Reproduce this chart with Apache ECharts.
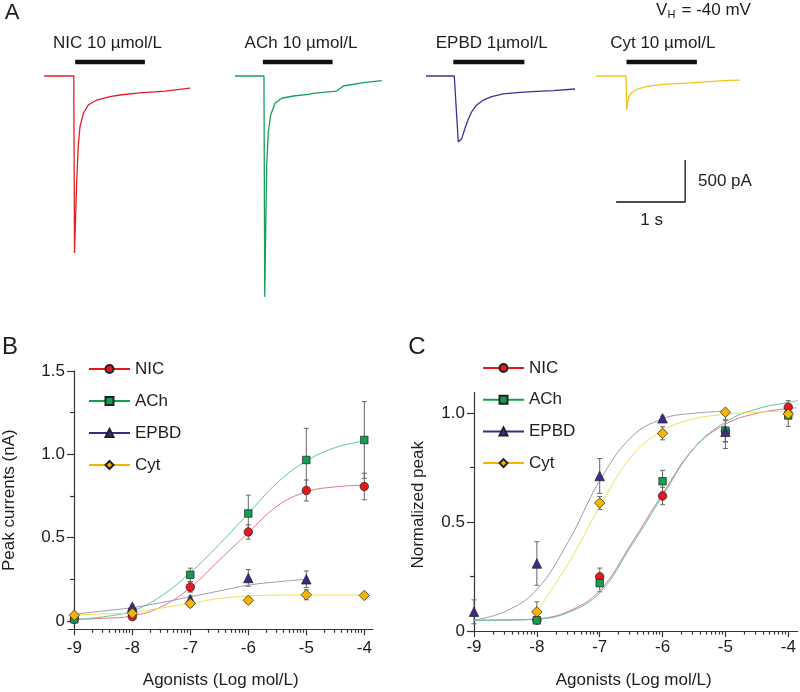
<!DOCTYPE html>
<html>
<head>
<meta charset="utf-8">
<script src="https://cdn.jsdelivr.net/npm/echarts@6/dist/echarts.min.js"></script>
<style>
  html, body { margin: 0; padding: 0; background: #fff; }
  #chart { width: 800px; height: 692px; }
</style>
</head>
<body>
<div id="chart"></div>
<script>
// ---- panel A: current traces, [time (s), current (pA)] ----
const nicTrace = [[0.06, 0], [0.49, 0], [0.50, -2107], [0.517, -1655], [0.532, -1258], [0.555, -821], [0.58, -603],
  [0.628, -444], [0.70, -345], [0.822, -286], [1.014, -246], [1.159, -226], [1.449, -202], [1.812, -179], [2.174, -145]];
const achTrace = [[2.826, 0], [3.246, 0], [3.257, -2627], [3.271, -1853], [3.286, -1059], [3.309, -663], [3.343, -464],
  [3.406, -325], [3.503, -265], [3.671, -238], [3.888, -218], [3.96, -206], [4.30, -179], [4.396, -119], [4.686, -80], [4.952, -56]];
const epbdTrace = [[5.594, 0], [6.004, 0], [6.062, -786], [6.072, -793], [6.112, -746], [6.159, -623], [6.207, -516],
  [6.257, -425], [6.329, -345], [6.425, -286], [6.546, -246], [6.714, -214], [6.957, -194], [7.199, -182], [7.439, -175], [7.754, -155]];
const cytTrace = [[8.058, 0], [8.493, 0], [8.503, -405], [8.517, -306], [8.541, -238], [8.575, -199], [8.648, -158],
  [8.793, -123], [9.033, -99], [9.42, -83], [9.975, -51], [10.145, -48]];
const agonistBars = [[0.51, 1.52], [3.23, 4.24], [5.99, 7.02], [8.50, 9.52]]; // 1 s application
const barLevel = 167;
const scaleBar = [[9.35, -1000], [9.35, -1500], [8.35, -1500]]; // 500 pA, 1 s
const agonistLabels = ['NIC 10 µmol/L', 'ACh 10 µmol/L', 'EPBD 1µmol/L', 'Cyt 10 µmol/L'];

// ---- panels B and C: dose-response ----
const logConc = [-9, -8, -7, -6, -5, -4];
const peakNIC = [0.01, 0.026, 0.203, 0.534, 0.783, 0.807];
const peakNICErr = [0.005, 0.01, 0.03, 0.043, 0.063, 0.08];
const peakACh = [0.01, 0.055, 0.277, 0.645, 0.966, 1.086];
const peakAChErr = [0.005, 0.01, 0.04, 0.11, 0.19, 0.23];
const peakEPBD = [null, 0.086, 0.13, 0.258, 0.25, null];
const peakEPBDErr = [0, 0.01, 0.02, 0.05, 0.05, 0];
const peakCyt = [0.034, 0.046, 0.105, 0.124, 0.157, 0.153];
const peakCytErr = [0.005, 0.01, 0.02, 0.015, 0.03, 0.01];

const normNIC = [null, 0.05, 0.249, 0.62, 0.918, 1.028];
const normNICErr = [0, 0.01, 0.04, 0.04, 0.05, 0.03];
const normACh = [null, 0.049, 0.22, 0.688, 0.92, 0.99];
const normAChErr = [0, 0.01, 0.04, 0.05, 0.05, 0.05];
const normEPBD = [0.088, 0.31, 0.712, 0.977, 0.915, null];
const normEPBDErr = [0.055, 0.1, 0.08, 0.01, 0.077, 0];
const normCyt = [null, 0.088, 0.588, 0.908, 1.005, 0.997];
const normCytErr = [0, 0.046, 0.03, 0.03, 0.01, 0.02];

// fitted curves, [log conc, value]
const fitPeakNIC = [[-9, 0.01], [-8.5, 0.016], [-8, 0.03], [-7.5, 0.085], [-7, 0.2], [-6.5, 0.365], [-6, 0.53], [-5.5, 0.69], [-5, 0.775], [-4.5, 0.805], [-4, 0.815]];
const fitPeakACh = [[-9, 0.008], [-8.5, 0.025], [-8, 0.06], [-7.5, 0.15], [-7, 0.29], [-6.5, 0.46], [-6, 0.645], [-5.5, 0.83], [-5, 0.96], [-4.5, 1.04], [-4, 1.08]];
const fitPeakEPBD = [[-9, 0.04], [-8.5, 0.06], [-8, 0.08], [-7.5, 0.11], [-7, 0.145], [-6.5, 0.18], [-6, 0.215], [-5.5, 0.235], [-5, 0.25]];
const fitPeakCyt = [[-9, 0.036], [-8.5, 0.042], [-8, 0.05], [-7.5, 0.078], [-7, 0.105], [-6.5, 0.135], [-6, 0.15], [-5.5, 0.155], [-5, 0.156], [-4.5, 0.156], [-4, 0.156]];
const fitNormNIC = [[-9, 0.05], [-8.5, 0.051], [-8, 0.056], [-7.5, 0.09], [-7, 0.185], [-6.5, 0.4], [-6, 0.63], [-5.5, 0.84], [-5, 0.95], [-4.5, 1.0], [-4, 1.022], [-3.87, 1.025]];
const fitNormACh = [[-9, 0.049], [-8.5, 0.05], [-8, 0.054], [-7.5, 0.085], [-7, 0.175], [-6.5, 0.39], [-6, 0.62], [-5.5, 0.84], [-5, 0.96], [-4.5, 1.02], [-4, 1.05], [-3.85, 1.058]];
const fitNormEPBD = [[-9, 0.05], [-8.5, 0.09], [-8, 0.19], [-7.5, 0.41], [-7, 0.69], [-6.5, 0.89], [-6, 0.975], [-5.5, 1.0], [-5, 1.01]];
const fitNormCyt = [[-8, 0.09], [-7.5, 0.31], [-7, 0.57], [-6.5, 0.8], [-6, 0.92], [-5.5, 0.975], [-5, 0.995], [-4.5, 1.005], [-4, 1.01]];

const peakTicks = [0, 0.5, 1, 1.5];
const peakMinorTicks = [0.25, 0.75, 1.25];
const normTicks = [0, 0.5, 1];
const normMinorTicks = [0.25, 0.75];
// log minor ticks between decades
const minorX = [-9, -8, -7, -6, -5].flatMap(d => [2, 3, 4, 5, 6, 7, 8, 9].map(k => d + Math.log10(k)));

const fontFam = '"Liberation Sans", Arial, sans-serif';
const ink = '#1e1e1e';
const compounds = [
  { name: 'NIC', symbol: 'circle', size: 8.5, fill: '#e8161d', curve: '#e27786' },
  { name: 'ACh', symbol: 'rect', size: 7.5, fill: '#12a04e', curve: '#62c2a8' },
  { name: 'EPBD', symbol: 'triangle', size: 9.5, fill: '#3b2a8e', curve: '#a09bb4' },
  { name: 'Cyt', symbol: 'diamond', size: 10.5, fill: '#f5b400', curve: '#efe05a' }
];

function pts(vals) {
  return logConc.map((x, i) => vals[i] == null ? null : [x, vals[i]]).filter(Boolean);
}
function errRows(vals, errs) {
  return logConc.map((x, i) => vals[i] == null ? null : [x, vals[i] - errs[i], vals[i] + errs[i]]).filter(Boolean);
}

function errorSeries(xi, yi, rows) {
  return {
    type: 'custom', xAxisIndex: xi, yAxisIndex: yi, silent: true, z: 2, data: rows,
    renderItem(params, api) {
      const x = api.value(0);
      const a = api.coord([x, api.value(1)]);
      const b = api.coord([x, api.value(2)]);
      const w = 2.5, st = { stroke: '#666', lineWidth: 1 };
      return {
        type: 'group', children: [
          { type: 'line', shape: { x1: a[0], y1: a[1], x2: b[0], y2: b[1] }, style: st },
          { type: 'line', shape: { x1: a[0] - w, y1: a[1], x2: a[0] + w, y2: a[1] }, style: st },
          { type: 'line', shape: { x1: b[0] - w, y1: b[1], x2: b[0] + w, y2: b[1] }, style: st }
        ]
      };
    }
  };
}
function curveSeries(xi, yi, data, color) {
  return { type: 'line', xAxisIndex: xi, yAxisIndex: yi, data: data, smooth: 0.4, symbol: 'none',
    silent: true, z: 3, lineStyle: { color: color, width: 1 } };
}
function markerSeries(xi, yi, c, vals) {
  return {
    type: 'line', name: c.name, xAxisIndex: xi, yAxisIndex: yi, data: pts(vals),
    symbol: c.symbol, symbolSize: c.size, showSymbol: true, z: 5, silent: true,
    lineStyle: { opacity: 0 },
    itemStyle: { color: c.fill, borderColor: '#222', borderWidth: 0.7 }
  };
}
function label(text, x, y, size, align) {
  return { type: 'text', x: x, y: y, silent: true,
    style: { text: text, fill: ink, font: size + 'px ' + fontFam, align: align || 'center', verticalAlign: 'middle' } };
}

const axisLine = { show: true, onZero: false, lineStyle: { color: '#333', width: 1.2 } };
const tickLine = { color: '#333', width: 1.2 };
const txt = { fontSize: 17, color: ink, fontFamily: fontFam };

function xAxisDose(gi, min, max, margin, gap) {
  return {
    type: 'value', gridIndex: gi, min: min, max: max, position: 'bottom',
    axisLine: axisLine, splitLine: { show: false },
    axisTick: { show: true, customValues: logConc, length: 6, lineStyle: tickLine },
    axisLabel: Object.assign({ customValues: logConc, margin: margin, formatter: v => String(v) }, txt),
    name: 'Agonists (Log mol/L)', nameLocation: 'middle', nameGap: gap, nameTextStyle: txt
  };
}
function xAxisMinor(gi, min, max) {
  return {
    type: 'value', gridIndex: gi, min: min, max: max, position: 'bottom',
    axisLine: { show: false, onZero: false }, splitLine: { show: false }, axisLabel: { show: false },
    axisTick: { show: true, customValues: minorX, length: 3.5, lineStyle: tickLine }
  };
}
function yAxisDose(gi, min, max, ticks, off, name, gap, pad) {
  return {
    type: 'value', gridIndex: gi, min: min, max: max, offset: off, position: 'left',
    axisLine: axisLine, splitLine: { show: false },
    axisTick: { show: true, customValues: ticks, length: 7, lineStyle: tickLine },
    axisLabel: Object.assign({ customValues: ticks, margin: 9, formatter: v => v === 0 ? '0' : v.toFixed(1) }, txt),
    name: name, nameLocation: 'middle', nameRotate: 90, nameGap: gap,
    nameTextStyle: Object.assign({ padding: pad }, txt)
  };
}
function yAxisMinor(gi, min, max, ticks, off) {
  return {
    type: 'value', gridIndex: gi, min: min, max: max, offset: off, position: 'left',
    axisLine: { show: false, onZero: false }, splitLine: { show: false }, axisLabel: { show: false },
    axisTick: { show: true, customValues: ticks, length: 4, lineStyle: tickLine }
  };
}

const series = [];
// panel A
[[nicTrace, '#e31e24'], [achTrace, '#1a9e5c'], [epbdTrace, '#4a2b92'], [cytTrace, '#f7c31a']].forEach(t => {
  series.push({ type: 'line', xAxisIndex: 0, yAxisIndex: 0, data: t[0], symbol: 'none', silent: true,
    lineStyle: { color: t[1], width: 1.3 } });
});
agonistBars.forEach(b => {
  series.push({ type: 'line', xAxisIndex: 0, yAxisIndex: 0, data: [[b[0], barLevel], [b[1], barLevel]],
    symbol: 'none', silent: true, lineStyle: { color: '#111', width: 4.5, cap: 'butt' } });
});
series.push({ type: 'line', xAxisIndex: 0, yAxisIndex: 0, data: scaleBar, symbol: 'none', silent: true,
  lineStyle: { color: '#111', width: 1.3 } });

// panel B
const peakVals = [peakNIC, peakACh, peakEPBD, peakCyt];
const peakErrs = [peakNICErr, peakAChErr, peakEPBDErr, peakCytErr];
const peakFits = [fitPeakNIC, fitPeakACh, fitPeakEPBD, fitPeakCyt];
compounds.forEach((c, i) => series.push(errorSeries(1, 1, errRows(peakVals[i], peakErrs[i]))));
compounds.forEach((c, i) => series.push(curveSeries(1, 1, peakFits[i], c.curve)));
compounds.forEach((c, i) => series.push(markerSeries(1, 1, c, peakVals[i])));

// panel C
const normVals = [normNIC, normACh, normEPBD, normCyt];
const normErrs = [normNICErr, normAChErr, normEPBDErr, normCytErr];
const normFits = [fitNormNIC, fitNormACh, fitNormEPBD, fitNormCyt];
compounds.forEach((c, i) => series.push(errorSeries(2, 3, errRows(normVals[i], normErrs[i]))));
compounds.forEach((c, i) => series.push(curveSeries(2, 3, normFits[i], c.curve)));
compounds.forEach((c, i) => series.push(markerSeries(2, 3, c, normVals[i])));

function legendAt(left, top, gap) {
  return {
    orient: 'vertical', left: left, top: top, itemWidth: 41, itemHeight: 10, itemGap: gap,
    selectedMode: false, data: compounds.map(c => c.name),
    textStyle: { fontSize: 17, color: ink, fontFamily: fontFam, lineHeight: 18 },
    lineStyle: { width: 2, opacity: 1 }
  };
}

const option = {
  animation: false,
  backgroundColor: '#fff',
  grid: [
    { left: 40, top: 42.4, width: 724.5, height: 268.8 },
    { left: 68.2, top: 371, width: 304.8, height: 258.3 },
    { left: 469.6, top: 392.6, width: 328.1, height: 238.4 }
  ],
  xAxis: [
    { type: 'value', gridIndex: 0, min: 0, max: 10.5, show: false },
    xAxisDose(1, -9.1, -3.85, 11, 43),
    xAxisDose(2, -9.07, -3.85, 8, 41),
    xAxisMinor(1, -9.1, -3.85),
    xAxisMinor(2, -9.07, -3.85)
  ],
  yAxis: [
    { type: 'value', gridIndex: 0, min: -2800, max: 400, show: false },
    yAxisDose(1, -0.05, 1.5, peakTicks, -5.5, 'Peak currents (nA)', 56, [0, 0, 0, 0]),
    yAxisMinor(1, -0.05, 1.5, peakMinorTicks, -5.5),
    yAxisDose(2, 0, 1.095, normTicks, -4.4, 'Normalized peak', 47, [0, 0, 0, 14]),
    yAxisMinor(2, 0, 1.095, normMinorTicks, -4.4)
  ],
  legend: [legendAt(83, 355, 14), legendAt(477, 354, 13.7)],
  graphic: [
    label('A', 12, 13, 22),
    label('B', 10, 347.5, 24),
    label('C', 417, 347.5, 24),
    label(agonistLabels[0], 107.5, 43.3, 17),
    label(agonistLabels[1], 301, 43.3, 17),
    label(agonistLabels[2], 491.7, 43.3, 17),
    label(agonistLabels[3], 662.8, 43.3, 17),
    label('V', 656, 10, 17, 'left'),
    label('H', 667.5, 15, 11, 'left'),
    label('= -40 mV', 681.5, 10, 17, 'left'),
    label('500 pA', 698, 181.7, 17, 'left'),
    label('1 s', 651.7, 220.7, 17)
  ],
  series: series
};

const chart = echarts.init(document.getElementById('chart'));
chart.setOption(option);
</script>
</body>
</html>
